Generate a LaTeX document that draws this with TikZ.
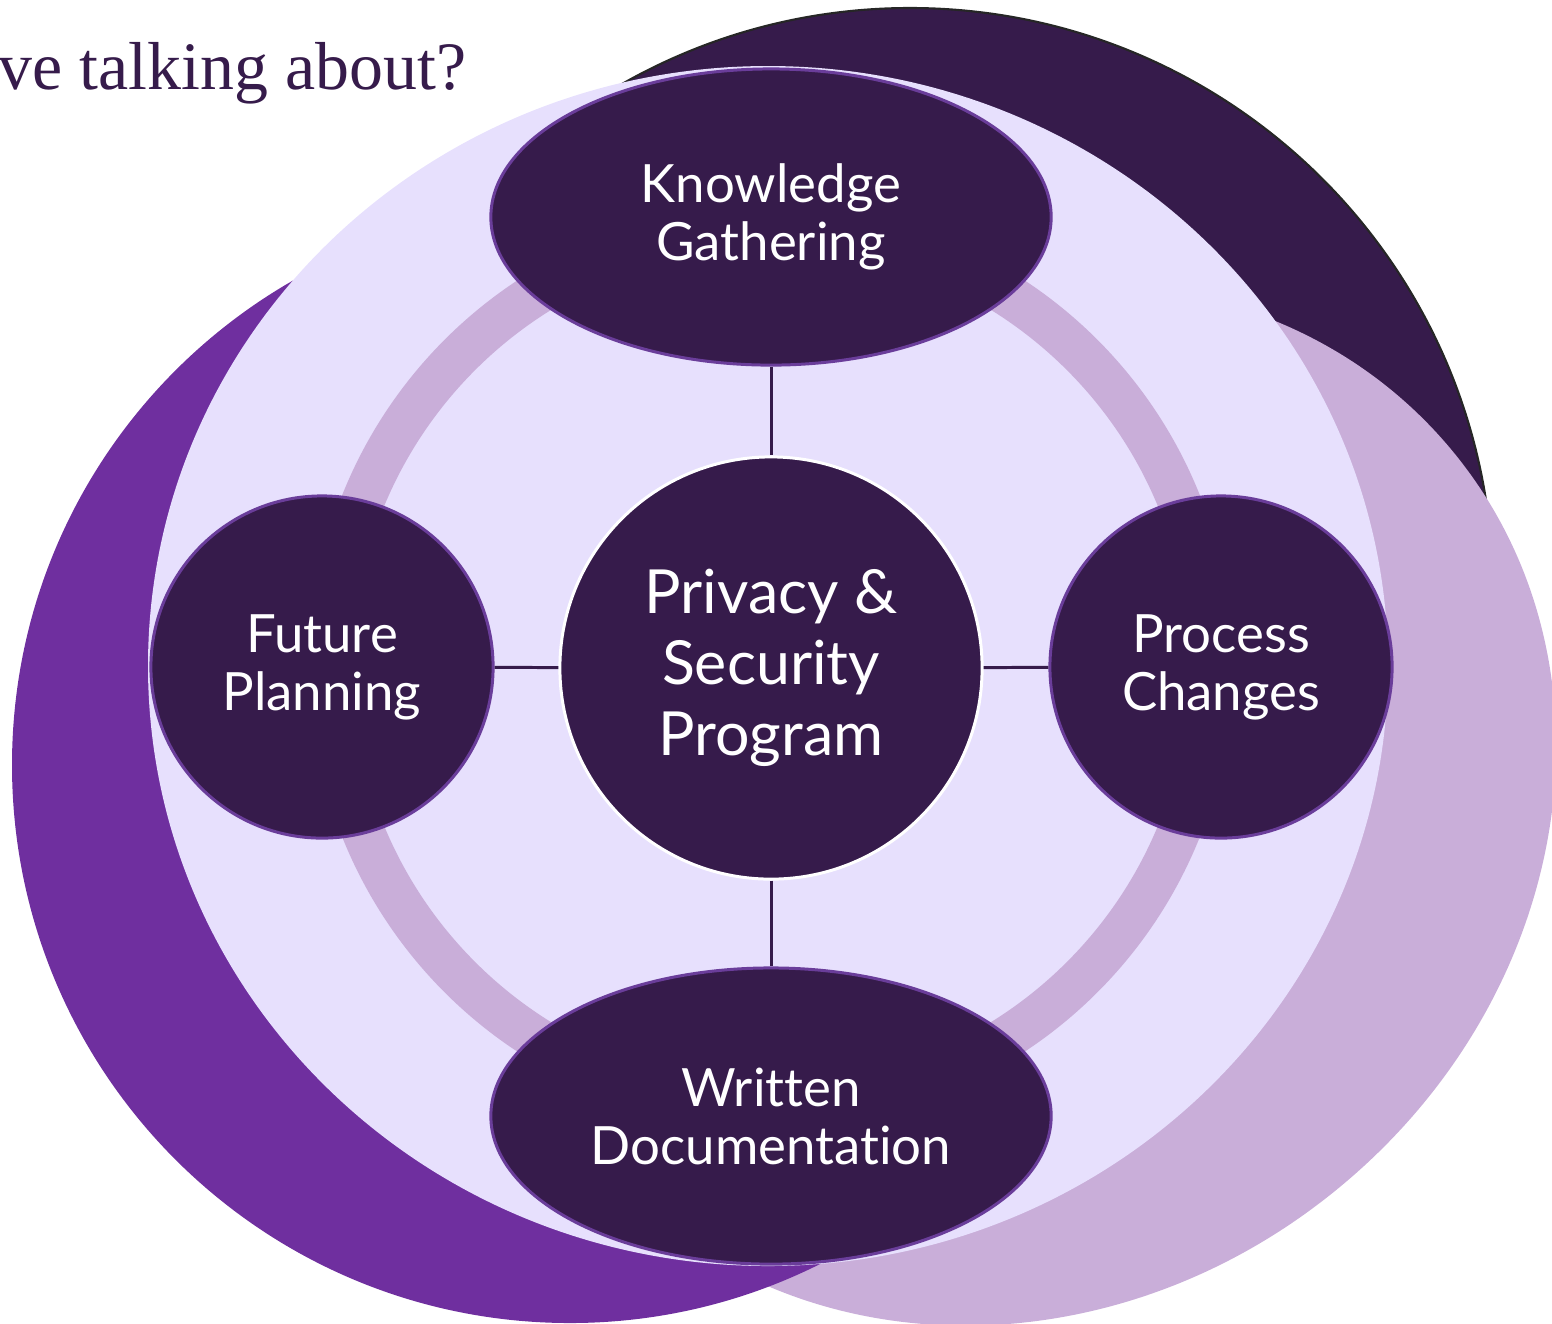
\documentclass[tikz,border=0pt]{standalone}
\usepackage{fontspec}
\newfontfamily\labelfont[Ligatures=NoCommon]{Lato}
\newfontfamily\titlefont{Liberation Serif}
\usepackage{xcolor}
\usepackage{tikz}
\usetikzlibrary{
    positioning,
    shapes.geometric
}

\definecolor{plumdark}{HTML}{361B4B}
\definecolor{plumviolet}{HTML}{6F2F9F}
\definecolor{plumlight}{HTML}{C9AED9}
\definecolor{plumpale}{HTML}{E7E0FD}
\definecolor{plumedge}{HTML}{6A3D9A}

\tikzset{
    item/.style={draw=plumedge, line width=0.85pt, fill=plumdark, text=white,
        align=center, inner sep=0pt,
        font=\labelfont\fontsize{15}{16.5}\selectfont},
    itemoval/.style={item, ellipse, minimum width=5.6cm, minimum height=2.96cm},
    itemround/.style={item, circle, minimum size=3.42cm},
    hub/.style={item, circle, draw=white, minimum size=4.22cm,
        font=\labelfont\fontsize{17.3}{20.2}\selectfont},
    link/.style={draw=plumdark, line width=0.85pt}
}

\begin{document}
\begin{tikzpicture}[x=0.01cm, y=-0.01cm]
            \useasboundingbox (0,0) rectangle (1552,1323);
            \clip (0,0) rectangle (1552,1323);
            % 背景の円
            \filldraw[fill=plumdark, draw=black!85, line width=0.6pt] (910,591) circle [radius=583];
            \fill[plumlight, rotate around={40:(1025,805)}] (1025,805) ellipse [x radius=555, y radius=495];
            \fill[plumviolet] (570,765) circle [radius=558];
            \fill[plumpale] (768,666) ellipse [x radius=620, y radius=600];
            \draw[plumlight, line width=0.43cm] (771,666) circle [radius=440];
            % 見出し
            \node[anchor=base west, inner sep=0pt, text=plumdark,
                font=\titlefont\fontsize{19.3}{21}\selectfont] (title) at (-2,89) {ve talking about?};
            % ノード
            \node[hub] (hub) at (771,668) {Privacy \&\\Security\\Program};
            \node[itemoval] (know) at (771,217) {Knowledge\\Gathering};
            \node[itemoval] (doc) at (771,1116) {Written\\Documentation};
            \node[itemround] (plan) at (322,667) {Future\\Planning};
            \node[itemround] (proc) at (1221,667) {Process\\Changes};
            % 線
            \draw[link] (know) -- (hub);
            \draw[link] (hub) -- (doc);
            \draw[link] (plan) -- (hub);
            \draw[link] (hub) -- (proc);
        \end{tikzpicture}
\end{document}
